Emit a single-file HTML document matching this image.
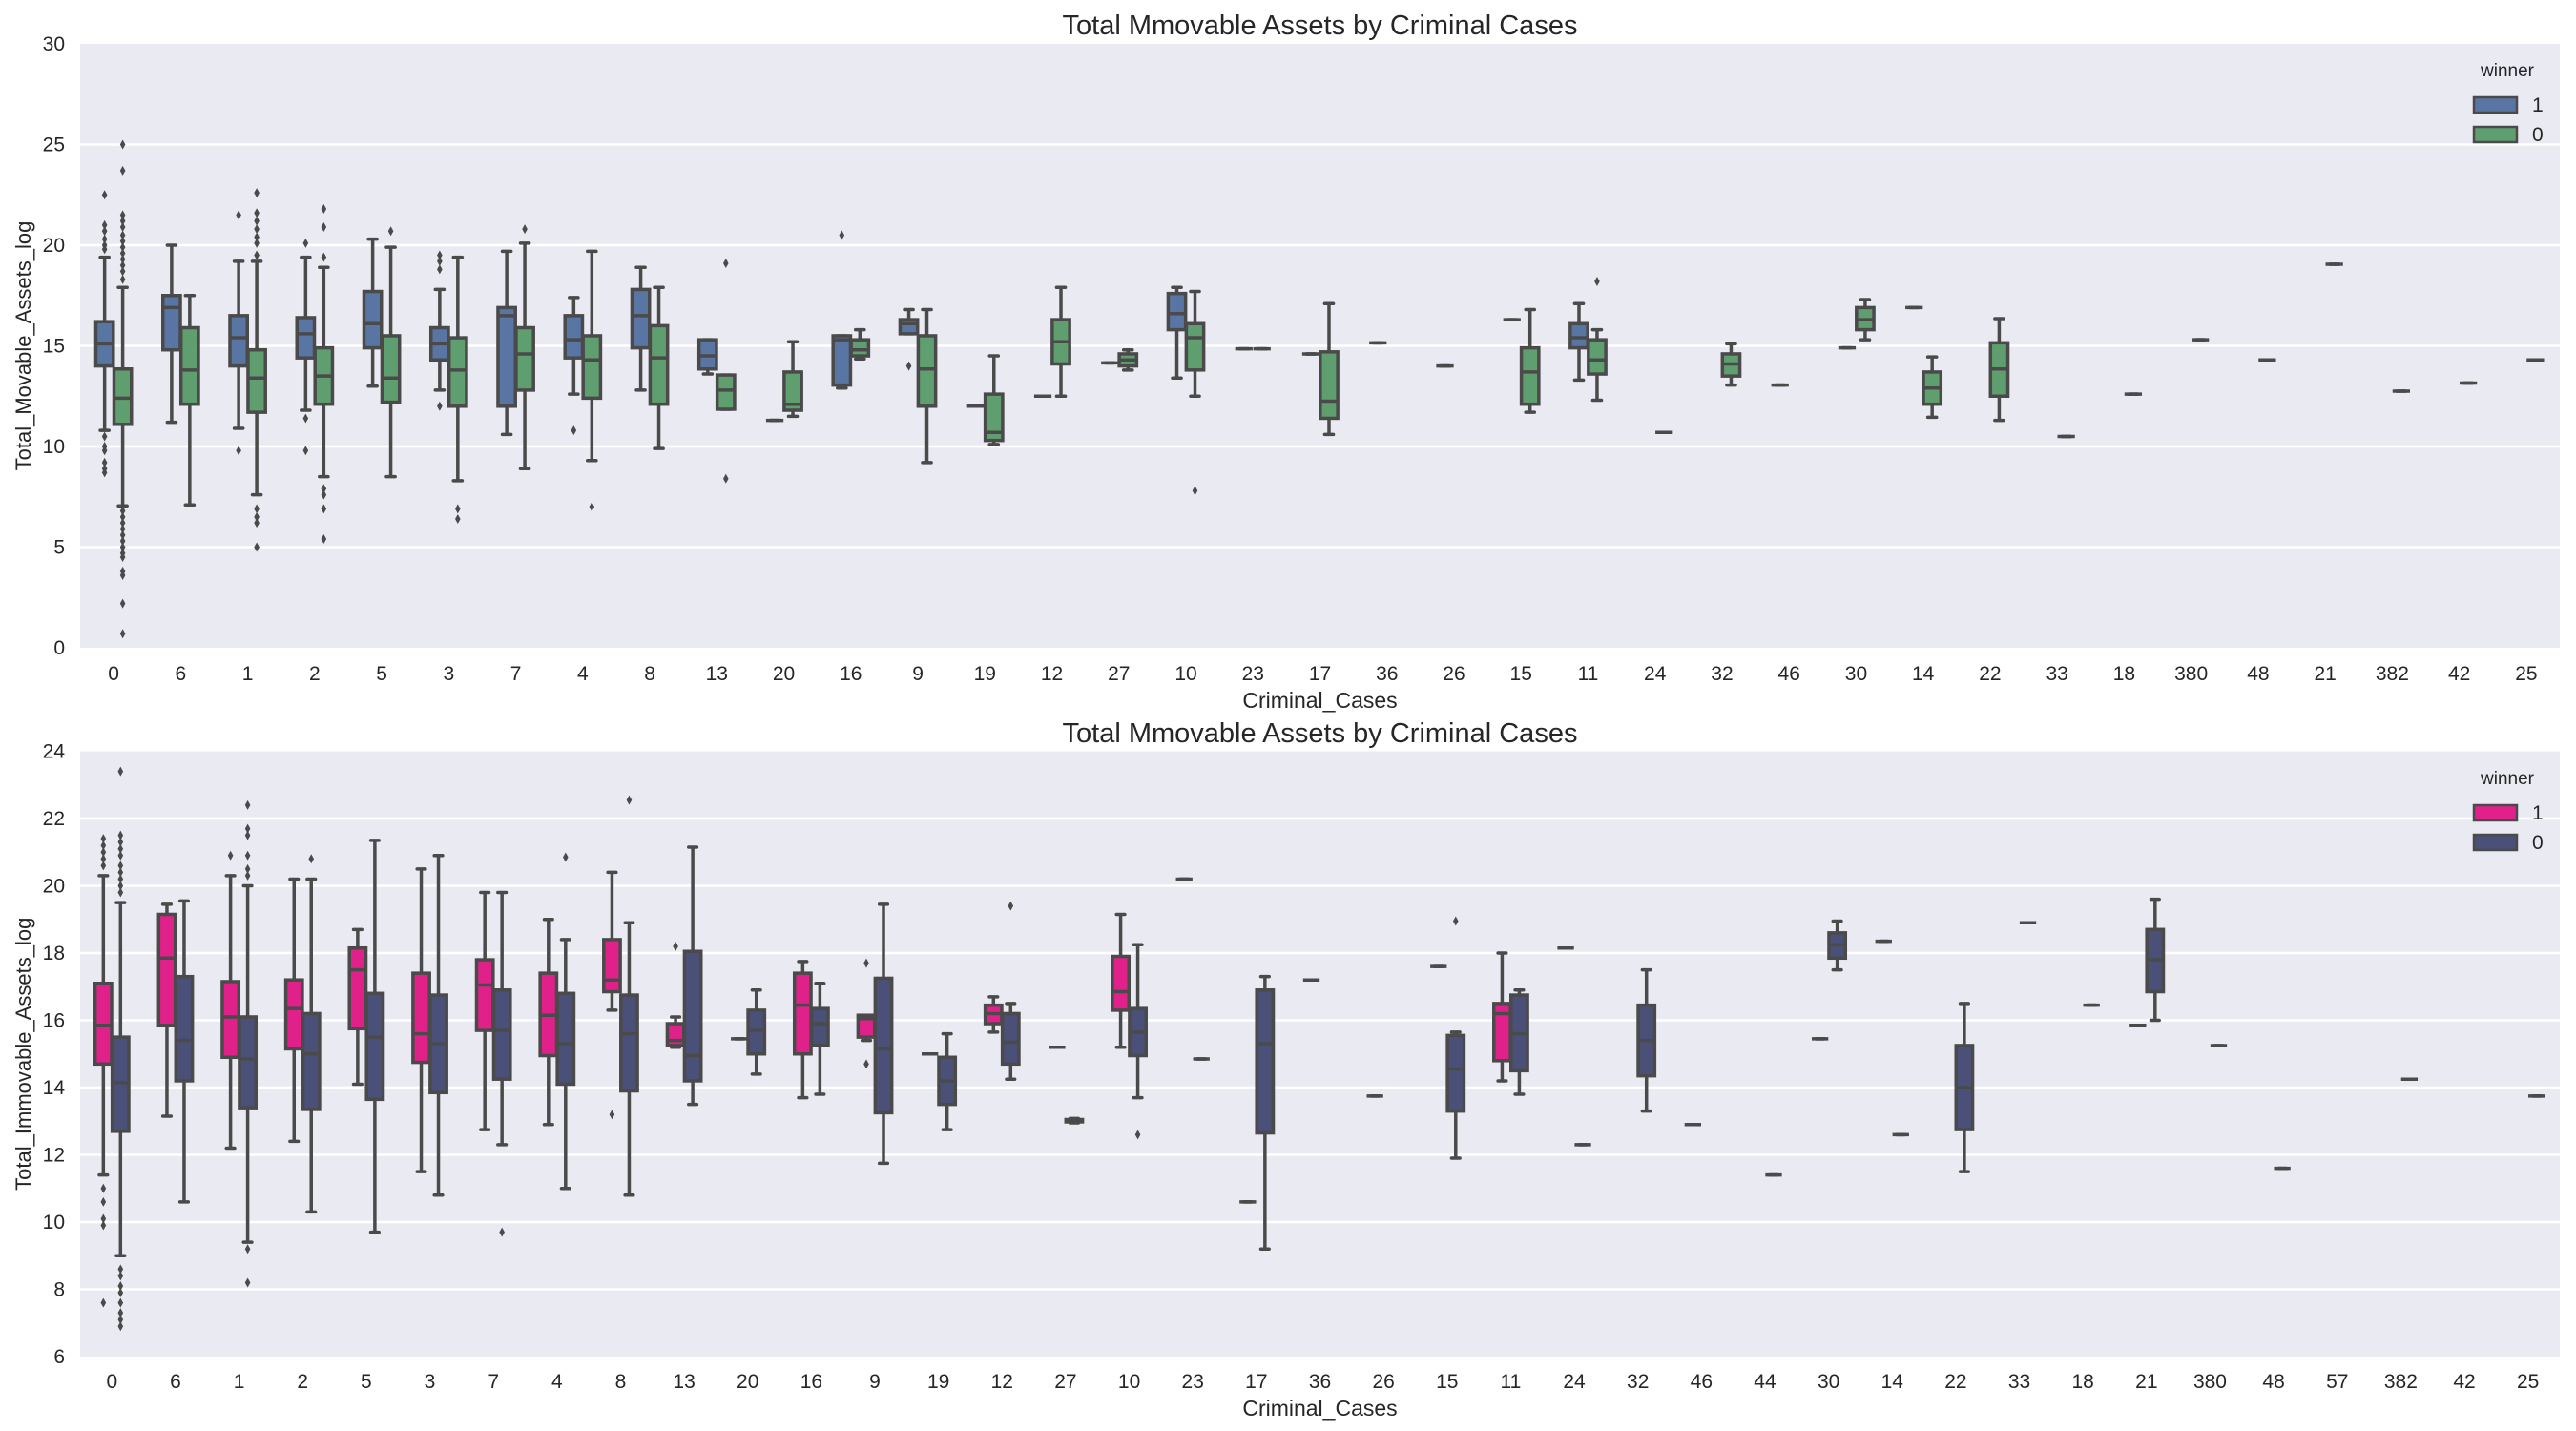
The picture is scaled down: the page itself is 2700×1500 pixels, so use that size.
<!DOCTYPE html>
<html><head><meta charset="utf-8"><style>
html,body{margin:0;padding:0;background:#fff;}
svg{display:block;}
text{font-family:"Liberation Sans Narrow","Liberation Sans",sans-serif;fill:#262626;}
</style></head><body>
<svg id="fig" width="2700" height="1500" viewBox="0 0 2700 1500" xmlns="http://www.w3.org/2000/svg"></svg>
<script>
// ---------- data: top chart (movable assets) ----------
const topCats = [0,6,1,2,5,3,7,4,8,13,20,16,9,19,12,27,10,23,17,36,26,15,11,24,32,46,30,14,22,33,18,380,48,21,382,42,25];
const topYTicks = [0,5,10,15,20,25,30];
// stats per category: [lowWhisker, q1, median, q3, highWhisker]
const topWin1 = {
 0:[10.8,14.0,15.1,16.2,19.4], 6:[11.2,14.8,16.9,17.5,20.0], 1:[10.9,14.0,15.4,16.5,19.2],
 2:[11.8,14.4,15.6,16.4,19.4], 5:[13.0,14.9,16.1,17.7,20.3], 3:[12.8,14.3,15.1,15.9,17.8],
 7:[10.6,12.0,16.5,16.9,19.7], 4:[12.6,14.4,15.3,16.5,17.4], 8:[12.8,14.9,16.5,17.8,18.9],
 13:[13.6,13.85,14.5,15.3,15.3], 20:[11.3,11.3,11.3,11.3,11.3], 16:[12.9,13.05,15.3,15.5,15.5],
 9:[15.6,15.6,16.1,16.3,16.8], 19:[12.0,12.0,12.0,12.0,12.0], 12:[12.5,12.5,12.5,12.5,12.5],
 27:[14.15,14.15,14.15,14.15,14.15], 10:[13.4,15.8,16.6,17.6,17.9], 23:[14.85,14.85,14.85,14.85,14.85],
 17:[14.6,14.6,14.6,14.6,14.6], 36:[15.15,15.15,15.15,15.15,15.15], 26:[14.0,14.0,14.0,14.0,14.0],
 15:[16.3,16.3,16.3,16.3,16.3], 11:[13.3,14.9,15.4,16.1,17.1], 46:[13.05,13.05,13.05,13.05,13.05],
 30:[14.9,14.9,14.9,14.9,14.9], 14:[16.9,16.9,16.9,16.9,16.9]
};
const topWin0 = {
 0:[7.05,11.1,12.4,13.85,17.9], 6:[7.1,12.1,13.8,15.9,17.5], 1:[7.6,11.7,13.4,14.8,19.2],
 2:[8.5,12.1,13.5,14.9,18.9], 5:[8.5,12.2,13.4,15.5,19.9], 3:[8.3,12.0,13.8,15.4,19.4],
 7:[8.9,12.8,14.6,15.9,20.1], 4:[9.3,12.4,14.3,15.5,19.7], 8:[9.9,12.1,14.4,16.0,17.9],
 13:[11.85,11.85,12.8,13.55,13.55], 20:[11.5,11.8,12.1,13.7,15.2], 16:[14.35,14.5,14.8,15.3,15.8],
 9:[9.2,12.0,13.85,15.5,16.8], 19:[10.1,10.3,10.7,12.6,14.5], 12:[12.5,14.1,15.2,16.3,17.9],
 27:[13.8,14.0,14.3,14.6,14.8], 10:[12.5,13.8,15.4,16.1,17.7], 23:[14.85,14.85,14.85,14.85,14.85],
 17:[10.6,11.4,12.25,14.7,17.1], 15:[11.7,12.1,13.7,14.9,16.8], 11:[12.3,13.6,14.3,15.3,15.8],
 24:[10.7,10.7,10.7,10.7,10.7], 32:[13.05,13.5,14.1,14.6,15.1], 30:[15.3,15.8,16.3,16.9,17.3],
 14:[11.45,12.1,12.9,13.7,14.45], 22:[11.3,12.5,13.85,15.15,16.35], 33:[10.5,10.5,10.5,10.5,10.5],
 18:[12.6,12.6,12.6,12.6,12.6], 380:[15.3,15.3,15.3,15.3,15.3], 48:[14.3,14.3,14.3,14.3,14.3],
 21:[19.05,19.05,19.05,19.05,19.05], 382:[12.75,12.75,12.75,12.75,12.75], 42:[13.15,13.15,13.15,13.15,13.15],
 25:[14.3,14.3,14.3,14.3,14.3]
};
const topOut1 = {0:[22.5,21.0,20.7,20.3,20.0,19.8,10.5,10.0,9.8,9.2,8.9,8.7],1:[21.5,9.8],2:[20.1,11.4,9.8],3:[19.5,19.2,18.8,12.0],4:[10.8],16:[20.5],9:[14.0]};
const topOut0 = {0:[25.0,23.7,21.5,21.2,20.9,20.5,20.2,19.9,19.6,19.3,19.0,18.7,18.3,6.8,6.5,6.2,5.9,5.6,5.3,5.0,4.7,4.5,3.8,3.6,2.2,0.7],
 1:[22.6,21.6,21.2,20.8,20.4,20.1,19.5,6.9,6.5,6.2,5.0],2:[21.8,20.9,19.4,7.9,7.6,6.9,5.4],5:[20.7],3:[6.9,6.4],7:[20.8],4:[7.0],13:[19.1,8.4],10:[7.8],11:[18.2]};

// ---------- data: bottom chart (immovable assets) ----------
const botCats = [0,6,1,2,5,3,7,4,8,13,20,16,9,19,12,27,10,23,17,36,26,15,11,24,32,46,44,30,14,22,33,18,21,380,48,57,382,42,25];
const botYTicks = [6,8,10,12,14,16,18,20,22,24];
const botWin1 = {
 0:[11.4,14.7,15.85,17.1,20.3], 6:[13.15,15.85,17.85,19.15,19.45], 1:[12.2,14.9,16.1,17.15,20.3],
 2:[12.4,15.15,16.35,17.2,20.2], 5:[14.1,15.75,17.5,18.15,18.7], 3:[11.5,14.75,15.6,17.4,20.5],
 7:[12.75,15.7,17.05,17.8,19.8], 4:[12.9,14.95,16.15,17.4,19.0], 8:[16.3,16.85,17.2,18.4,20.4],
 13:[15.2,15.25,15.4,15.9,16.1], 20:[15.45,15.45,15.45,15.45,15.45], 16:[13.7,15.0,16.45,17.4,17.75],
 9:[15.4,15.5,16.05,16.15,16.15], 19:[15.0,15.0,15.0,15.0,15.0], 12:[15.65,15.9,16.2,16.45,16.7],
 27:[15.2,15.2,15.2,15.2,15.2], 10:[15.2,16.3,16.85,17.9,19.15], 23:[20.2,20.2,20.2,20.2,20.2],
 17:[10.6,10.6,10.6,10.6,10.6], 36:[17.2,17.2,17.2,17.2,17.2], 26:[13.75,13.75,13.75,13.75,13.75],
 15:[17.6,17.6,17.6,17.6,17.6], 11:[14.2,14.8,16.2,16.5,18.0], 24:[18.15,18.15,18.15,18.15,18.15],
 46:[12.9,12.9,12.9,12.9,12.9], 30:[15.45,15.45,15.45,15.45,15.45], 14:[18.35,18.35,18.35,18.35,18.35],
 21:[15.85,15.85,15.85,15.85,15.85]
};
const botWin0 = {
 0:[9.0,12.7,14.15,15.5,19.5], 6:[10.6,14.2,15.4,17.3,19.55], 1:[9.4,13.4,14.85,16.1,20.0],
 2:[10.3,13.35,15.0,16.2,20.2], 5:[9.7,13.65,15.5,16.8,21.35], 3:[10.8,13.85,15.3,16.75,20.9],
 7:[12.3,14.25,15.7,16.9,19.8], 4:[11.0,14.1,15.3,16.8,18.4], 8:[10.8,13.9,15.6,16.75,18.9],
 13:[13.5,14.2,14.95,18.05,21.15], 20:[14.4,15.0,15.7,16.3,16.9], 16:[13.8,15.25,15.9,16.35,17.1],
 9:[11.75,13.25,15.15,17.25,19.45], 19:[12.75,13.5,14.2,14.9,15.6], 12:[14.25,14.7,15.35,16.2,16.5],
 27:[12.95,12.98,13.0,13.05,13.08], 10:[13.7,14.95,15.65,16.35,18.25], 23:[14.85,14.85,14.85,14.85,14.85],
 17:[9.2,12.65,15.3,16.9,17.3], 15:[11.9,13.3,14.55,15.55,15.65], 11:[13.8,14.5,15.6,16.75,16.9],
 24:[12.3,12.3,12.3,12.3,12.3], 32:[13.3,14.35,15.4,16.45,17.5], 44:[11.4,11.4,11.4,11.4,11.4],
 30:[17.5,17.85,18.25,18.6,18.95], 14:[12.6,12.6,12.6,12.6,12.6], 22:[11.5,12.75,14.0,15.25,16.5],
 33:[18.9,18.9,18.9,18.9,18.9], 18:[16.45,16.45,16.45,16.45,16.45], 21:[16.0,16.85,17.8,18.7,19.6],
 380:[15.25,15.25,15.25,15.25,15.25], 48:[11.6,11.6,11.6,11.6,11.6], 382:[14.25,14.25,14.25,14.25,14.25],
 25:[13.75,13.75,13.75,13.75,13.75]
};
const botOut1 = {0:[21.4,21.2,21.0,20.8,20.6,11.0,10.6,10.1,9.9,7.6],1:[20.9],8:[13.2],13:[18.2],9:[17.7,14.7]};
const botOut0 = {0:[23.4,21.5,21.3,21.1,20.9,20.6,20.4,20.2,20.0,19.8,8.6,8.4,8.1,7.9,7.6,7.3,7.1,6.9],
 1:[22.4,21.7,21.5,20.9,20.5,20.3,9.2,8.2],2:[20.8],7:[9.7],4:[20.85],8:[22.55],12:[19.4],10:[12.6],15:[18.95]};

const NS = "http://www.w3.org/2000/svg";
const svg = document.getElementById('fig');
const LINE = "#4a4a4a";
function mk(tag, attrs, parent){
  const e = document.createElementNS(NS, tag);
  for (const k in attrs) e.setAttribute(k, attrs[k]);
  (parent||svg).appendChild(e);
  return e;
}

function drawPanel(cfg){
  const g = mk('g', {});
  
  
  const {x0,x1,y0,y1,ymin,ymax,cats} = cfg;
  const yS = v => y1 - (v - ymin) / (ymax - ymin) * (y1 - y0);
  const bw = (x1 - x0) / cats.length;
  const xC = i => x0 + (i + 0.5) * bw;
  const bg = mk('rect', {x:x0, y:y0, width:x1-x0, height:y1-y0, fill:'#eaeaf2'}, g);
  
  
  cfg.yticks.forEach(t => {
    const y = yS(t);
    if (t !== ymin && t !== ymax) {
      const gl = mk('line', {x1:x0, x2:x1, y1:y, y2:y, stroke:'#fff', 'stroke-width':2.5}, g);
      
      
    }
    const tl = mk('text', {x:x0-16, y:y+7, 'text-anchor':'end', 'font-size':21}, g);
    tl.textContent = t;
    
    
  });
  cats.forEach((c, i) => {
    const tl = mk('text', {x:xC(i), y:cfg.xtickY, 'text-anchor':'middle', 'font-size':21}, g);
    tl.textContent = c;
    
    
  });
  const boxW = bw * 0.26, off = bw * 0.135;
  const series = [[cfg.s1, cfg.o1, cfg.c1, -1], [cfg.s0, cfg.o0, cfg.c0, 1]];
  series.forEach(([stats, outs, color, sgn]) => {
    cats.forEach((c, i) => {
      const cx = xC(i) + sgn * off;
      const s = stats[c];
      if (s) {
        const bg2 = mk('g', {}, g);
        
        
        const [lo, q1, md, q3, hi] = s;
        mk('line', {x1:cx, x2:cx, y1:yS(hi), y2:yS(q3), stroke:LINE, 'stroke-width':3.5}, bg2);
        mk('line', {x1:cx, x2:cx, y1:yS(q1), y2:yS(lo), stroke:LINE, 'stroke-width':3.5}, bg2);
        const cw = boxW * 0.5;
        mk('line', {x1:cx-cw/2, x2:cx+cw/2, y1:yS(hi), y2:yS(hi), stroke:LINE, 'stroke-width':3.5, 'stroke-linecap':'round'}, bg2);
        mk('line', {x1:cx-cw/2, x2:cx+cw/2, y1:yS(lo), y2:yS(lo), stroke:LINE, 'stroke-width':3.5, 'stroke-linecap':'round'}, bg2);
        mk('rect', {x:cx-boxW/2, y:yS(q3), width:boxW, height:Math.max(0, yS(q1)-yS(q3)), fill:color, stroke:LINE, 'stroke-width':3.5}, bg2);
        mk('line', {x1:cx-boxW/2, x2:cx+boxW/2, y1:yS(md), y2:yS(md), stroke:LINE, 'stroke-width':3.5}, bg2);
      }
      (outs[c] || []).forEach(v => {
        const y = yS(v);
        const d = mk('path', {d:`M${cx} ${y-5} L${cx+2.8} ${y} L${cx} ${y+5} L${cx-2.8} ${y} Z`, fill:LINE}, g);
        
        
      });
    });
  });
  const t = mk('text', {x:(x0+x1)/2, y:cfg.titleY, 'text-anchor':'middle', 'font-size':29}, g);
  t.textContent = cfg.title;
  
  
  const xl = mk('text', {x:(x0+x1)/2, y:cfg.xlabelY, 'text-anchor':'middle', 'font-size':23}, g);
  xl.textContent = 'Criminal_Cases';
  
  
  const ym = (y0+y1)/2;
  const yl = mk('text', {x:32, y:ym, 'text-anchor':'middle', 'font-size':22, transform:`rotate(-90 32 ${ym})`, style:'font-family:"Liberation Sans",sans-serif'}, g);
  yl.textContent = cfg.ylabel;
  
  
  // legend
  const lg = mk('g', {}, g);
  
  
  const lt = mk('text', {x:2628, y:cfg.legY, 'text-anchor':'middle', 'font-size':19}, lg);
  lt.textContent = 'winner';
  [['1', cfg.c1, 0], ['0', cfg.c0, 1]].forEach(([lab, col, k]) => {
    const py = cfg.legY + 22 + k * 31;
    const e = mk('g', {}, lg);
    
    
    mk('rect', {x:2593, y:py, width:45, height:16, fill:col, stroke:LINE, 'stroke-width':2.5}, e);
    const tx = mk('text', {x:2654, y:py+15, 'font-size':21}, e);
    tx.textContent = lab;
  });
}

drawPanel({name:'movable-assets-chart', x0:84, x1:2683, y0:46, y1:679, ymin:0, ymax:30, cats:topCats, yticks:topYTicks,
  s1:topWin1, s0:topWin0, o1:topOut1, o0:topOut0, c1:'#5975a4', c0:'#5f9e6e',
  title:'Total Mmovable Assets by Criminal Cases', titleY:36, xtickY:713, xlabelY:742,
  ylabel:'Total_Movable_Assets_log', legY:80});
drawPanel({name:'immovable-assets-chart', x0:84, x1:2683, y0:787.5, y1:1422, ymin:6, ymax:24, cats:botCats, yticks:botYTicks,
  s1:botWin1, s0:botWin0, o1:botOut1, o0:botOut0, c1:'#e0218a', c0:'#4b5079',
  title:'Total Mmovable Assets by Criminal Cases', titleY:778, xtickY:1455, xlabelY:1484,
  ylabel:'Total_Immovable_Assets_log', legY:822});
</script>
</body></html>
